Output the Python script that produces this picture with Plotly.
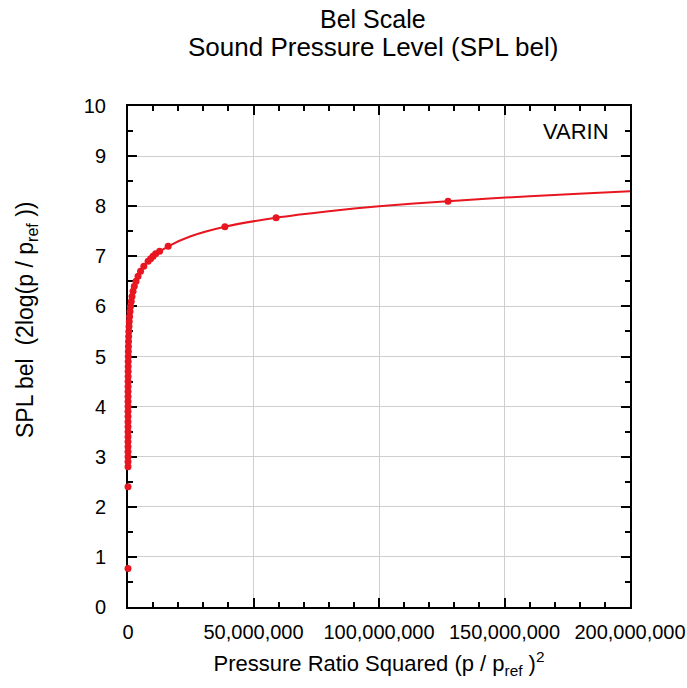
import plotly.graph_objects as go

# Squared pressure ratio (p/p_ref)^2 and the corresponding level in bels
curve_x = [630, 400000, 1000000, 2000000, 4000000, 6300000, 10000000, 16000000,
           25000000, 38600000, 59000000, 80000000, 100000000, 127500000,
           160000000, 200000000, 210000000]
curve_y = [2.8, 5.6, 6.0, 6.3, 6.6, 6.8, 7.0, 7.2,
           7.4, 7.59, 7.77, 7.9, 8.0, 8.1,
           8.2, 8.3, 8.32]

point_x = [6, 250,
           630, 800, 1000, 1260, 1600, 2000, 2500, 3200, 4000, 5000,
           6300, 8000, 10000, 12600, 16000, 20000, 25000, 32000, 40000, 50000,
           63000, 80000, 100000, 126000, 160000, 200000, 250000, 320000, 400000,
           500000, 630000, 800000, 1000000, 1300000, 1600000, 2000000,
           2500000, 3200000, 4000000, 5000000, 6300000, 8000000, 9000000,
           10000000, 11000000, 12600000, 16000000, 38600000, 59000000, 127500000]
point_y = [0.77, 2.4,
           2.8, 2.9, 3.0, 3.1, 3.2, 3.3, 3.4, 3.5, 3.6, 3.7,
           3.8, 3.9, 4.0, 4.1, 4.2, 4.3, 4.4, 4.5, 4.6, 4.7,
           4.8, 4.9, 5.0, 5.1, 5.2, 5.3, 5.4, 5.5, 5.6,
           5.7, 5.8, 5.9, 6.0, 6.1, 6.2, 6.3,
           6.4, 6.5, 6.6, 6.7, 6.8, 6.9, 6.95,
           7.0, 7.05, 7.1, 7.2, 7.59, 7.77, 8.1]

x_ticks = [0, 50000000, 100000000, 150000000, 200000000]
y_ticks = list(range(0, 11))

RED = "rgb(232,22,32)"
FONT = "Liberation Sans, Arial, sans-serif"
NBSP = "\u00a0"

fig = go.Figure()
fig.add_trace(go.Scatter(x=curve_x, y=curve_y, mode="lines",
                         line=dict(color=RED, width=2, shape="spline", smoothing=0.6),
                         hoverinfo="skip", showlegend=False))
fig.add_trace(go.Scatter(x=point_x, y=point_y, mode="markers",
                         marker=dict(color=RED, size=7, symbol="circle"),
                         showlegend=False, cliponaxis=False))

axis_common = dict(
    showline=True, linecolor="black", linewidth=2, mirror="ticks",
    ticks="inside", ticklen=9, tickwidth=2, tickcolor="black",
    showgrid=True, gridcolor="#cfcfcf", gridwidth=1, zeroline=False,
    tickfont=dict(family=FONT, size=20, color="black"),
    ticklabeloverflow="allow", automargin=False,
)

fig.update_xaxes(range=[0, 200000000], tickvals=x_ticks, tickformat=",d",
                 ticklabelstandoff=6,
                 minor=dict(dtick=10000000, ticks="inside", ticklen=5, tickwidth=2,
                            tickcolor="black", showgrid=False),
                 title=dict(text="Pressure Ratio Squared (p / p<sub>ref</sub> )<sup>2</sup>",
                            font=dict(family=FONT, size=22, color="black"), standoff=14),
                 **axis_common)
fig.update_yaxes(range=[0, 10], tickvals=y_ticks, ticklabelstandoff=16,
                 layer="below traces",
                 minor=dict(dtick=0.5, ticks="inside", ticklen=5, tickwidth=2,
                            tickcolor="black", showgrid=False),
                 **axis_common)

# Vertical axis label
fig.add_annotation(text="SPL bel" + NBSP + " (2log(p / p<sub>ref</sub> ))",
                   xref="paper", yref="paper", x=-0.201, y=0.573,
                   xanchor="center", yanchor="middle", textangle=-90, showarrow=False,
                   font=dict(family=FONT, size=23, color="black"))

fig.add_annotation(text="VARIN", xref="paper", yref="paper", x=0.962, y=0.978,
                   xanchor="right", yanchor="top", showarrow=False,
                   font=dict(family=FONT, size=22, color="black"))

# Two-line heading placed above the plot area
fig.add_annotation(text="Bel Scale", xref="paper", yref="paper", x=0.488, y=1.1737,
                   xanchor="center", yanchor="middle", showarrow=False,
                   font=dict(family=FONT, size=25, color="black"))
fig.add_annotation(text="Sound Pressure Level (SPL bel)", xref="paper", yref="paper",
                   x=0.488, y=1.1178, xanchor="center", yanchor="middle", showarrow=False,
                   font=dict(family=FONT, size=26, color="black"))

fig.update_layout(
    width=687, height=688,
    margin=dict(l=128, r=57, t=106, b=81),
    paper_bgcolor="white", plot_bgcolor="white",
)

fig.write_html("out.html")
